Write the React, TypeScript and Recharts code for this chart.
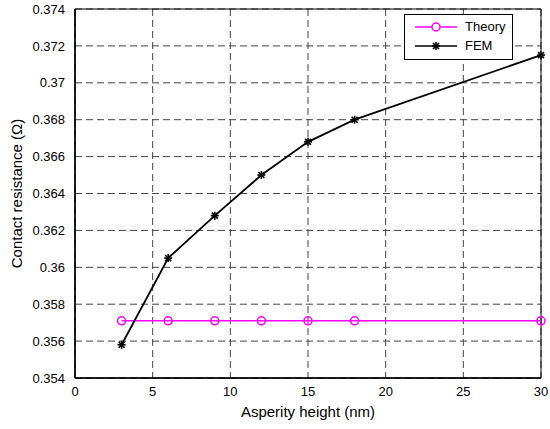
import {
	CartesianGrid,
	Line,
	LineChart,
	ReferenceArea,
	XAxis,
	YAxis,
} from "recharts";

const heights = [3, 6, 9, 12, 15, 18, 30];
const theory = [0.3571, 0.3571, 0.3571, 0.3571, 0.3571, 0.3571, 0.3571];
const fem = [0.3558, 0.3605, 0.3628, 0.365, 0.3668, 0.368, 0.3715];
const xTicks = [0, 5, 10, 15, 20, 25, 30];
const yTicks = [
	0.354, 0.356, 0.358, 0.36, 0.362, 0.364, 0.366, 0.368, 0.37, 0.372, 0.374,
];

const data = heights.map((h, i) => ({ h, theory: theory[i], fem: fem[i] }));

const FONT = "'Liberation Sans', Arial, sans-serif";

function CircleDot(props: { cx?: number; cy?: number }) {
	const { cx, cy } = props;
	if (cx == null || cy == null) return null;
	return <circle cx={cx} cy={cy} r={4} fill="none" stroke="#ff00ff" strokeWidth={1.5} />;
}

function StarDot(props: { cx?: number; cy?: number }) {
	const { cx, cy } = props;
	if (cx == null || cy == null) return null;
	const r = 4;
	return (
		<g stroke="#000" strokeWidth={1.6}>
			<line x1={cx - r} y1={cy} x2={cx + r} y2={cy} />
			<line x1={cx} y1={cy - r} x2={cx} y2={cy + r} />
			<line x1={cx - 3} y1={cy - 3} x2={cx + 3} y2={cy + 3} />
			<line x1={cx - 3} y1={cy + 3} x2={cx + 3} y2={cy - 3} />
		</g>
	);
}

function LegendBox() {
	return (
		<div
			style={{
				position: "absolute",
				left: 404,
				top: 14,
				width: 109,
				height: 46,
				border: "1px solid #000",
				background: "#fff",
				fontFamily: FONT,
				fontSize: 13,
				boxSizing: "border-box",
			}}
		>
			<svg width={52} height={44} style={{ position: "absolute", left: 4, top: 0 }}>
				<line x1={6} y1={12} x2={48} y2={12} stroke="#ff00ff" strokeWidth={1.5} />
				<circle cx={27} cy={12} r={4} fill="#fff" stroke="#ff00ff" strokeWidth={1.5} />
				<line x1={6} y1={31} x2={48} y2={31} stroke="#000" strokeWidth={1.5} />
				<StarDot cx={27} cy={31} />
			</svg>
			<span style={{ position: "absolute", left: 60, top: 4 }}>Theory</span>
			<span style={{ position: "absolute", left: 60, top: 23 }}>FEM</span>
		</div>
	);
}

export default function App() {
	return (
		<div style={{ position: "absolute", left: 0, top: 0, background: "#fff" }}>
			<LineChart
				width={550}
				height={429}
				data={data}
				margin={{ top: 9, right: 9, bottom: 0, left: 10 }}
			>
				<CartesianGrid
					stroke="#444"
					strokeDasharray="7 4"
					horizontalValues={yTicks}
					verticalValues={xTicks}
				/>
				<XAxis
					dataKey="h"
					type="number"
					domain={[0, 30]}
					ticks={xTicks}
					height={51}
					tickLine={false}
					axisLine={{ stroke: "#000", strokeWidth: 1.5 }}
					tick={{ fontSize: 13, fill: "#000", fontFamily: FONT }}
					tickMargin={3}
					label={{
						value: "Asperity height (nm)",
						position: "insideBottom",
						offset: 12,
						style: { fontSize: 15, fill: "#000", fontFamily: FONT },
					}}
				/>
				<YAxis
					type="number"
					domain={[0.354, 0.374]}
					ticks={yTicks}
					width={65}
					tickLine={false}
					axisLine={{ stroke: "#000", strokeWidth: 1.5 }}
					tick={{ fontSize: 13, fill: "#000", fontFamily: FONT }}
					tickMargin={4}
					label={{
						value: "Contact resistance (Ω)",
						angle: -90,
						position: "insideLeft",
						offset: 7,
						style: { fontSize: 15, fill: "#000", fontFamily: FONT, textAnchor: "middle" },
					}}
				/>
				<ReferenceArea
					x1={0}
					x2={30}
					y1={0.354}
					y2={0.374}
					fill="none"
					stroke="#000"
					strokeWidth={1}
				/>
				<Line
					dataKey="theory"
					stroke="#ff00ff"
					strokeWidth={1.5}
					dot={<CircleDot />}
					isAnimationActive={false}
				/>
				<Line
					dataKey="fem"
					stroke="#000"
					strokeWidth={1.8}
					dot={<StarDot />}
					isAnimationActive={false}
				/>
			</LineChart>
			<LegendBox />
		</div>
	);
}
